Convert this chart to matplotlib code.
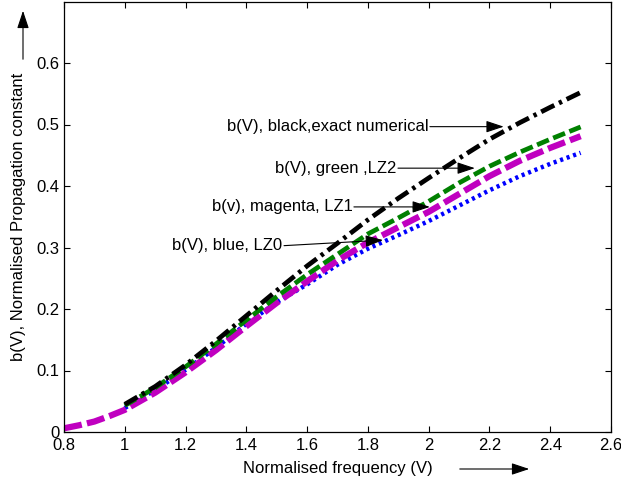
import matplotlib
matplotlib.use('Agg')
import matplotlib.pyplot as plt
from matplotlib.patches import FancyArrowPatch

plt.rcParams['font.family'] = ['Liberation Sans', 'DejaVu Sans']
plt.rcParams['font.size'] = 12

# normalised frequency V
v_exact = [1.0, 1.1, 1.2, 1.3, 1.4, 1.5, 1.6, 1.7, 1.8, 1.9, 2.0, 2.1, 2.2, 2.3, 2.4, 2.5]
v_lz1 = [0.8, 0.85, 0.9, 0.95] + v_exact

# b(V)
b_exact = [0.045, 0.074, 0.109, 0.148, 0.189, 0.230, 0.270, 0.307, 0.345, 0.380,
           0.413, 0.445, 0.476, 0.503, 0.528, 0.552]
b_lz2 = [0.043, 0.072, 0.106, 0.143, 0.182, 0.220, 0.256, 0.289, 0.322, 0.348,
         0.375, 0.405, 0.432, 0.455, 0.476, 0.496]
b_lz1 = [0.006, 0.011, 0.017, 0.026,
         0.036, 0.064, 0.097, 0.133, 0.172, 0.210, 0.245, 0.279, 0.308, 0.333,
         0.358, 0.387, 0.416, 0.441, 0.462, 0.481]
b_lz0 = [0.039, 0.068, 0.101, 0.137, 0.176, 0.211, 0.240, 0.272, 0.298, 0.320,
         0.343, 0.368, 0.393, 0.416, 0.436, 0.454]

x_ticks = [0.8, 1.0, 1.2, 1.4, 1.6, 1.8, 2.0, 2.2, 2.4, 2.6]
x_tick_labels = ['0.8', '1', '1.2', '1.4', '1.6', '1.8', '2', '2.2', '2.4', '2.6']
y_ticks = [0, 0.1, 0.2, 0.3, 0.4, 0.5, 0.6]
y_tick_labels = ['0', '0.1', '0.2', '0.3', '0.4', '0.5', '0.6']

# (text, tail, tip) for the text arrows
notes = [
    ('b(V), black,exact numerical', (2.004, 0.4965), (2.247, 0.4965)),
    ('b(V), green ,LZ2', (1.899, 0.429), (2.152, 0.429)),
    ('b(v), magenta, LZ1', (1.754, 0.366), (2.004, 0.366)),
    ('b(V), blue, LZ0', (1.524, 0.303), (1.850, 0.312)),
]

ARROW = '-|>,head_length=0.9,head_width=0.3'

fig = plt.figure(figsize=(6.21, 4.84), dpi=100)
ax = fig.add_axes([64 / 621, 52 / 484, 547 / 621, 430.5 / 484])

ax.plot(v_exact, b_lz0, color='blue', linestyle=(0, (0.7, 0.85)), linewidth=3.2)
ax.plot(v_lz1, b_lz1, color='#c000c0', linestyle=(0, (2.9, 0.85)), linewidth=4.5)
ax.plot(v_exact, b_lz2, color='green', linestyle=(0, (2.7, 1.0)), linewidth=3.4)
ax.plot(v_exact, b_exact, color='black', linestyle=(0, (3.1, 1.1, 0.7, 1.1)), linewidth=3.4)

for txt, tail, tip in notes:
    ax.annotate('', xy=tip, xytext=tail,
                arrowprops=dict(arrowstyle=ARROW, color='black', lw=0.8,
                                shrinkA=0, shrinkB=0, mutation_scale=12))
    ax.text(tail[0] - 0.005, tail[1], txt, ha='right', va='center')

ax.set_xlim(0.8, 2.6)
ax.set_ylim(0, 0.7)
ax.set_xticks(x_ticks)
ax.set_xticklabels(x_tick_labels)
ax.set_yticks(y_ticks)
ax.set_yticklabels(y_tick_labels)
ax.tick_params(direction='in', top=True, right=True, length=4, width=0.8)
ax.tick_params(axis='x', pad=4.5)
ax.tick_params(axis='y', pad=3)
for sp in ax.spines.values():
    sp.set_linewidth(0.9)

ax.set_xlabel('Normalised frequency (V)', va='center')
ax.xaxis.set_label_coords(0.5, -0.084)
ax.set_ylabel('b(V), Normalised Propagation constant', va='center')
ax.yaxis.set_label_coords(-0.084, 0.5)

# arrows beside the axis labels
fig.add_artist(FancyArrowPatch((457 / 621, 15 / 484), (532 / 621, 15 / 484),
                               transform=fig.transFigure, arrowstyle=ARROW,
                               mutation_scale=12, color='black', lw=0.8))
fig.add_artist(FancyArrowPatch((23 / 621, 422 / 484), (23 / 621, 476 / 484),
                               transform=fig.transFigure, arrowstyle=ARROW,
                               mutation_scale=12, color='black', lw=0.8))

fig.savefig('out.png', dpi=100)
